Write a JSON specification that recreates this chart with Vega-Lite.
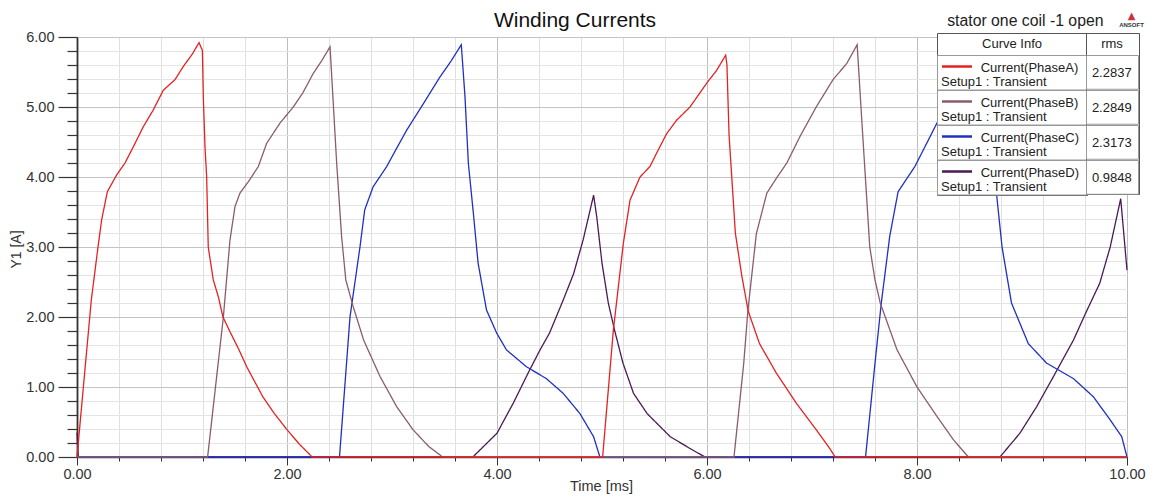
{
  "$schema": "https://vega.github.io/schema/vega-lite/v6.json",
  "width": 1050,
  "height": 420,
  "autosize": {"type": "none"},
  "padding": {"left": 77, "top": 37, "right": 26, "bottom": 39},
  "background": "white",
  "title": {"text": "Winding Currents", "font": "Liberation Sans", "fontSize": 21, "fontWeight": "normal", "color": "#111", "anchor": "middle", "frame": "group", "dx": -27, "dy": 27, "offset": 6},
  "config": {"font": "Liberation Sans", "view": {"stroke": "#444", "strokeWidth": 1}},
  "datasets": {
    "info": [
      {"series": "Current(PhaseA)", "rms": "2.2837"},
      {"series": "Current(PhaseB)", "rms": "2.2849"},
      {"series": "Current(PhaseC)", "rms": "2.3173"},
      {"series": "Current(PhaseD)", "rms": "0.9848"}
    ],
    "currents": [
      {"series": "Current(PhaseD)", "t": 0, "i": 0.35},
      {"series": "Current(PhaseD)", "t": 0.012, "i": 0},
      {"series": "Current(PhaseD)", "t": 3.77, "i": 0},
      {"series": "Current(PhaseD)", "t": 4.0, "i": 0.34},
      {"series": "Current(PhaseD)", "t": 4.155, "i": 0.77},
      {"series": "Current(PhaseD)", "t": 4.31, "i": 1.24},
      {"series": "Current(PhaseD)", "t": 4.41, "i": 1.53},
      {"series": "Current(PhaseD)", "t": 4.5, "i": 1.77},
      {"series": "Current(PhaseD)", "t": 4.63, "i": 2.24},
      {"series": "Current(PhaseD)", "t": 4.73, "i": 2.62},
      {"series": "Current(PhaseD)", "t": 4.82, "i": 3.1},
      {"series": "Current(PhaseD)", "t": 4.92, "i": 3.74},
      {"series": "Current(PhaseD)", "t": 4.95, "i": 3.43},
      {"series": "Current(PhaseD)", "t": 5.0, "i": 2.77},
      {"series": "Current(PhaseD)", "t": 5.06, "i": 2.2},
      {"series": "Current(PhaseD)", "t": 5.12, "i": 1.81},
      {"series": "Current(PhaseD)", "t": 5.2, "i": 1.34},
      {"series": "Current(PhaseD)", "t": 5.3, "i": 0.91},
      {"series": "Current(PhaseD)", "t": 5.43, "i": 0.62},
      {"series": "Current(PhaseD)", "t": 5.65, "i": 0.29},
      {"series": "Current(PhaseD)", "t": 5.84, "i": 0.12},
      {"series": "Current(PhaseD)", "t": 5.98, "i": 0},
      {"series": "Current(PhaseD)", "t": 8.79, "i": 0},
      {"series": "Current(PhaseD)", "t": 8.98, "i": 0.34},
      {"series": "Current(PhaseD)", "t": 9.14, "i": 0.72},
      {"series": "Current(PhaseD)", "t": 9.3, "i": 1.15},
      {"series": "Current(PhaseD)", "t": 9.49, "i": 1.67},
      {"series": "Current(PhaseD)", "t": 9.62, "i": 2.1},
      {"series": "Current(PhaseD)", "t": 9.74, "i": 2.48},
      {"series": "Current(PhaseD)", "t": 9.84, "i": 3.0},
      {"series": "Current(PhaseD)", "t": 9.94, "i": 3.69},
      {"series": "Current(PhaseD)", "t": 10, "i": 2.67},

      {"series": "Current(PhaseC)", "t": 0, "i": 0},
      {"series": "Current(PhaseC)", "t": 2.5, "i": 0},
      {"series": "Current(PhaseC)", "t": 2.6, "i": 2.0},
      {"series": "Current(PhaseC)", "t": 2.695, "i": 3.0},
      {"series": "Current(PhaseC)", "t": 2.74, "i": 3.53},
      {"series": "Current(PhaseC)", "t": 2.82, "i": 3.86},
      {"series": "Current(PhaseC)", "t": 2.95, "i": 4.15},
      {"series": "Current(PhaseC)", "t": 3.04, "i": 4.4},
      {"series": "Current(PhaseC)", "t": 3.14, "i": 4.67},
      {"series": "Current(PhaseC)", "t": 3.3, "i": 5.05},
      {"series": "Current(PhaseC)", "t": 3.457, "i": 5.43},
      {"series": "Current(PhaseC)", "t": 3.56, "i": 5.65},
      {"series": "Current(PhaseC)", "t": 3.66, "i": 5.89},
      {"series": "Current(PhaseC)", "t": 3.695, "i": 5.15},
      {"series": "Current(PhaseC)", "t": 3.727, "i": 4.2},
      {"series": "Current(PhaseC)", "t": 3.775, "i": 3.48},
      {"series": "Current(PhaseC)", "t": 3.82, "i": 2.77},
      {"series": "Current(PhaseC)", "t": 3.9, "i": 2.1},
      {"series": "Current(PhaseC)", "t": 3.997, "i": 1.77},
      {"series": "Current(PhaseC)", "t": 4.09, "i": 1.53},
      {"series": "Current(PhaseC)", "t": 4.28, "i": 1.29},
      {"series": "Current(PhaseC)", "t": 4.47, "i": 1.12},
      {"series": "Current(PhaseC)", "t": 4.63, "i": 0.91},
      {"series": "Current(PhaseC)", "t": 4.79, "i": 0.62},
      {"series": "Current(PhaseC)", "t": 4.92, "i": 0.29},
      {"series": "Current(PhaseC)", "t": 4.98, "i": 0},
      {"series": "Current(PhaseC)", "t": 7.51, "i": 0},
      {"series": "Current(PhaseC)", "t": 7.6, "i": 1.34},
      {"series": "Current(PhaseC)", "t": 7.66, "i": 2.2},
      {"series": "Current(PhaseC)", "t": 7.74, "i": 3.15},
      {"series": "Current(PhaseC)", "t": 7.82, "i": 3.79},
      {"series": "Current(PhaseC)", "t": 7.98, "i": 4.15},
      {"series": "Current(PhaseC)", "t": 8.19, "i": 4.77},
      {"series": "Current(PhaseC)", "t": 8.35, "i": 5.15},
      {"series": "Current(PhaseC)", "t": 8.5, "i": 5.5},
      {"series": "Current(PhaseC)", "t": 8.66, "i": 5.88},
      {"series": "Current(PhaseC)", "t": 8.69, "i": 5.15},
      {"series": "Current(PhaseC)", "t": 8.76, "i": 3.72},
      {"series": "Current(PhaseC)", "t": 8.81, "i": 3.0},
      {"series": "Current(PhaseC)", "t": 8.9, "i": 2.2},
      {"series": "Current(PhaseC)", "t": 9.06, "i": 1.62},
      {"series": "Current(PhaseC)", "t": 9.235, "i": 1.34},
      {"series": "Current(PhaseC)", "t": 9.49, "i": 1.12},
      {"series": "Current(PhaseC)", "t": 9.68, "i": 0.86},
      {"series": "Current(PhaseC)", "t": 9.84, "i": 0.53},
      {"series": "Current(PhaseC)", "t": 9.95, "i": 0.29},
      {"series": "Current(PhaseC)", "t": 10, "i": 0},

      {"series": "Current(PhaseB)", "t": 0, "i": 0},
      {"series": "Current(PhaseB)", "t": 1.244, "i": 0},
      {"series": "Current(PhaseB)", "t": 1.394, "i": 2.0},
      {"series": "Current(PhaseB)", "t": 1.457, "i": 3.1},
      {"series": "Current(PhaseB)", "t": 1.505, "i": 3.58},
      {"series": "Current(PhaseB)", "t": 1.552, "i": 3.77},
      {"series": "Current(PhaseB)", "t": 1.64, "i": 3.95},
      {"series": "Current(PhaseB)", "t": 1.727, "i": 4.15},
      {"series": "Current(PhaseB)", "t": 1.806, "i": 4.48},
      {"series": "Current(PhaseB)", "t": 1.933, "i": 4.77},
      {"series": "Current(PhaseB)", "t": 2.06, "i": 5.0},
      {"series": "Current(PhaseB)", "t": 2.15, "i": 5.2},
      {"series": "Current(PhaseB)", "t": 2.25, "i": 5.48},
      {"series": "Current(PhaseB)", "t": 2.33, "i": 5.66},
      {"series": "Current(PhaseB)", "t": 2.41, "i": 5.86},
      {"series": "Current(PhaseB)", "t": 2.473, "i": 4.2},
      {"series": "Current(PhaseB)", "t": 2.52, "i": 3.15},
      {"series": "Current(PhaseB)", "t": 2.56, "i": 2.53},
      {"series": "Current(PhaseB)", "t": 2.63, "i": 2.15},
      {"series": "Current(PhaseB)", "t": 2.73, "i": 1.67},
      {"series": "Current(PhaseB)", "t": 2.886, "i": 1.15},
      {"series": "Current(PhaseB)", "t": 3.044, "i": 0.72},
      {"series": "Current(PhaseB)", "t": 3.2, "i": 0.39},
      {"series": "Current(PhaseB)", "t": 3.35, "i": 0.15},
      {"series": "Current(PhaseB)", "t": 3.457, "i": 0.03},
      {"series": "Current(PhaseB)", "t": 3.48, "i": 0},
      {"series": "Current(PhaseB)", "t": 6.257, "i": 0},
      {"series": "Current(PhaseB)", "t": 6.35, "i": 1.34},
      {"series": "Current(PhaseB)", "t": 6.39, "i": 2.1},
      {"series": "Current(PhaseB)", "t": 6.47, "i": 3.19},
      {"series": "Current(PhaseB)", "t": 6.57, "i": 3.77},
      {"series": "Current(PhaseB)", "t": 6.66, "i": 3.98},
      {"series": "Current(PhaseB)", "t": 6.76, "i": 4.2},
      {"series": "Current(PhaseB)", "t": 6.886, "i": 4.58},
      {"series": "Current(PhaseB)", "t": 7.04, "i": 5.0},
      {"series": "Current(PhaseB)", "t": 7.2, "i": 5.39},
      {"series": "Current(PhaseB)", "t": 7.33, "i": 5.62},
      {"series": "Current(PhaseB)", "t": 7.43, "i": 5.89},
      {"series": "Current(PhaseB)", "t": 7.47, "i": 4.91},
      {"series": "Current(PhaseB)", "t": 7.52, "i": 3.72},
      {"series": "Current(PhaseB)", "t": 7.55, "i": 3.0},
      {"series": "Current(PhaseB)", "t": 7.6, "i": 2.53},
      {"series": "Current(PhaseB)", "t": 7.65, "i": 2.2},
      {"series": "Current(PhaseB)", "t": 7.81, "i": 1.53},
      {"series": "Current(PhaseB)", "t": 8.0, "i": 1.0},
      {"series": "Current(PhaseB)", "t": 8.19, "i": 0.58},
      {"series": "Current(PhaseB)", "t": 8.35, "i": 0.24},
      {"series": "Current(PhaseB)", "t": 8.49, "i": 0},
      {"series": "Current(PhaseB)", "t": 10, "i": 0},

      {"series": "Current(PhaseA)", "t": 0, "i": 0},
      {"series": "Current(PhaseA)", "t": 0.136, "i": 2.24},
      {"series": "Current(PhaseA)", "t": 0.2, "i": 3.0},
      {"series": "Current(PhaseA)", "t": 0.235, "i": 3.39},
      {"series": "Current(PhaseA)", "t": 0.289, "i": 3.79},
      {"series": "Current(PhaseA)", "t": 0.378, "i": 4.03},
      {"series": "Current(PhaseA)", "t": 0.457, "i": 4.2},
      {"series": "Current(PhaseA)", "t": 0.536, "i": 4.43},
      {"series": "Current(PhaseA)", "t": 0.632, "i": 4.72},
      {"series": "Current(PhaseA)", "t": 0.727, "i": 4.96},
      {"series": "Current(PhaseA)", "t": 0.822, "i": 5.24},
      {"series": "Current(PhaseA)", "t": 0.933, "i": 5.39},
      {"series": "Current(PhaseA)", "t": 1.013, "i": 5.58},
      {"series": "Current(PhaseA)", "t": 1.1, "i": 5.76},
      {"series": "Current(PhaseA)", "t": 1.162, "i": 5.92},
      {"series": "Current(PhaseA)", "t": 1.194, "i": 5.81},
      {"series": "Current(PhaseA)", "t": 1.203, "i": 5.15},
      {"series": "Current(PhaseA)", "t": 1.219, "i": 4.43},
      {"series": "Current(PhaseA)", "t": 1.235, "i": 4.0},
      {"series": "Current(PhaseA)", "t": 1.25, "i": 3.0},
      {"series": "Current(PhaseA)", "t": 1.298, "i": 2.53},
      {"series": "Current(PhaseA)", "t": 1.346, "i": 2.29},
      {"series": "Current(PhaseA)", "t": 1.39, "i": 2.0},
      {"series": "Current(PhaseA)", "t": 1.457, "i": 1.79},
      {"series": "Current(PhaseA)", "t": 1.54, "i": 1.54},
      {"series": "Current(PhaseA)", "t": 1.616, "i": 1.29},
      {"series": "Current(PhaseA)", "t": 1.77, "i": 0.86},
      {"series": "Current(PhaseA)", "t": 1.88, "i": 0.62},
      {"series": "Current(PhaseA)", "t": 2.0, "i": 0.39},
      {"series": "Current(PhaseA)", "t": 2.12, "i": 0.18},
      {"series": "Current(PhaseA)", "t": 2.22, "i": 0.03},
      {"series": "Current(PhaseA)", "t": 2.24, "i": 0},
      {"series": "Current(PhaseA)", "t": 5.006, "i": 0},
      {"series": "Current(PhaseA)", "t": 5.108, "i": 1.81},
      {"series": "Current(PhaseA)", "t": 5.203, "i": 3.05},
      {"series": "Current(PhaseA)", "t": 5.267, "i": 3.67},
      {"series": "Current(PhaseA)", "t": 5.362, "i": 4.0},
      {"series": "Current(PhaseA)", "t": 5.457, "i": 4.15},
      {"series": "Current(PhaseA)", "t": 5.52, "i": 4.34},
      {"series": "Current(PhaseA)", "t": 5.616, "i": 4.62},
      {"series": "Current(PhaseA)", "t": 5.71, "i": 4.81},
      {"series": "Current(PhaseA)", "t": 5.838, "i": 5.0},
      {"series": "Current(PhaseA)", "t": 5.997, "i": 5.34},
      {"series": "Current(PhaseA)", "t": 6.09, "i": 5.52},
      {"series": "Current(PhaseA)", "t": 6.178, "i": 5.74},
      {"series": "Current(PhaseA)", "t": 6.19, "i": 5.6},
      {"series": "Current(PhaseA)", "t": 6.21, "i": 4.6},
      {"series": "Current(PhaseA)", "t": 6.24, "i": 3.9},
      {"series": "Current(PhaseA)", "t": 6.27, "i": 3.2},
      {"series": "Current(PhaseA)", "t": 6.33, "i": 2.6},
      {"series": "Current(PhaseA)", "t": 6.393, "i": 2.08},
      {"series": "Current(PhaseA)", "t": 6.5, "i": 1.62},
      {"series": "Current(PhaseA)", "t": 6.66, "i": 1.2},
      {"series": "Current(PhaseA)", "t": 6.85, "i": 0.77},
      {"series": "Current(PhaseA)", "t": 7.04, "i": 0.39},
      {"series": "Current(PhaseA)", "t": 7.17, "i": 0.12},
      {"series": "Current(PhaseA)", "t": 7.22, "i": 0},
      {"series": "Current(PhaseA)", "t": 10, "i": 0}
    ]
  },
  "data": {"name": "currents"},
  "transform": [
    {"lookup": "series", "from": {"data": {"name": "info"}, "key": "series", "fields": ["rms"]}}
  ],
  "resolve": {"axis": {"x": "independent", "y": "independent"}},
  "layer": [
    {
      "mark": {"type": "line", "strokeWidth": 1.3, "interpolate": "linear"},
      "encoding": {
        "x": {
          "field": "t", "type": "quantitative",
          "scale": {"domain": [0, 10], "nice": false, "zero": false},
          "axis": {
            "orient": "bottom",
            "values": [0, 0.4, 0.8, 1.2, 1.6, 2, 2.4, 2.8, 3.2, 3.6, 4, 4.4, 4.8, 5.2, 5.6, 6, 6.4, 6.8, 7.2, 7.6, 8, 8.4, 8.8, 9.2, 9.6, 10],
            "format": ".2f",
            "labelExpr": "datum.value % 2 === 0 ? datum.label : ''",
            "labelFont": "Liberation Sans", "labelFontSize": 14.5, "labelColor": "#333",
            "labelPadding": 2, "labelFlush": false, "labelOverlap": false,
            "tickSize": {"condition": {"test": "datum.value % 2 === 0", "value": 8}, "value": 4},
            "tickColor": "#333", "tickWidth": 1,
            "domainColor": "#333", "domainWidth": 1.5,
            "grid": true,
            "gridColor": {"condition": {"test": "datum.value % 2 === 0", "value": "#bdbdbd"}, "value": "#e0e0e0"},
            "gridWidth": 1,
            "title": "Time [ms]", "titleFont": "Liberation Sans", "titleFontSize": 14.5, "titleFontWeight": "normal", "titleColor": "#333",
            "titleX": 524, "titleY": 33, "titleAlign": "center", "titleBaseline": "alphabetic"
          }
        },
        "y": {
          "field": "i", "type": "quantitative",
          "scale": {"domain": [0, 6], "nice": false, "zero": false},
          "axis": {
            "orient": "left",
            "values": [0, 0.2, 0.4, 0.6, 0.8, 1, 1.2, 1.4, 1.6, 1.8, 2, 2.2, 2.4, 2.6, 2.8, 3, 3.2, 3.4, 3.6, 3.8, 4, 4.2, 4.4, 4.6, 4.8, 5, 5.2, 5.4, 5.6, 5.8, 6],
            "format": ".2f",
            "labelExpr": "datum.value % 1 === 0 ? datum.label : ''",
            "labelFont": "Liberation Sans", "labelFontSize": 14.5, "labelColor": "#333",
            "labelPadding": 4, "labelOverlap": false, "labelFlush": false, "labelBaseline": "middle",
            "tickSize": {"condition": {"test": "datum.value % 1 === 0", "value": 19}, "value": 10},
            "tickColor": "#333", "tickWidth": 1.2,
            "domainColor": "#333", "domainWidth": 1.8,
            "grid": true,
            "gridColor": {"condition": {"test": "datum.value % 1 === 0", "value": "#c4c4c4"}, "value": "#e4e4e4"},
            "gridWidth": 1,
            "title": "Y1 [A]", "titleFont": "Liberation Sans", "titleFontSize": 14, "titleFontWeight": "normal", "titleColor": "#333",
            "titleX": -61, "titleY": 212, "titleAngle": -90, "titleAlign": "center", "titleBaseline": "middle"
          }
        },
        "color": {
          "field": "series", "type": "nominal",
          "scale": {"domain": ["Current(PhaseA)", "Current(PhaseB)", "Current(PhaseC)", "Current(PhaseD)"], "range": ["#e52222", "#8a5c70", "#2030c0", "#4a1a55"]},
          "legend": {
            "orient": "none", "legendX": 860, "legendY": -4,
            "title": "Curve Info", "titleFont": "Liberation Sans", "titleFontSize": 13, "titleFontWeight": "normal", "titleColor": "#222",
            "titleAnchor": "middle", "titlePadding": 9, "titleOrient": "top",
            "padding": 0, "rowPadding": 0, "strokeColor": "#555", "fillColor": "white",
            "symbolType": "stroke", "symbolSize": 900, "symbolStrokeWidth": 2.5,
            "labelFont": "Liberation Sans", "labelFontSize": 13, "labelColor": "#222", "labelLimit": 0,
            "labelExpr": "['\u200b\u00a0\u00a0\u00a0\u00a0\u00a0\u00a0\u00a0\u00a0\u00a0\u00a0\u00a0' + datum.label + '\u00a0\u00a0\u200b', 'Setup1 : Transient']",
            "encode": {
              "title": {"update": {"dy": {"value": 5}}},
              "entries": {"update": {"stroke": {"value": "#999"}, "strokeWidth": {"value": 1}}},
              "symbols": {"update": {"x": {"value": 20}, "y": {"value": 11.5}}},
              "labels": {"update": {"x": {"value": 4}, "y": {"value": 16.5}, "baseline": {"value": "alphabetic"}, "align": {"value": "left"}, "lineHeight": {"value": 14.5}}}
            }
          }
        },
        "strokeDash": {
          "field": "rms", "type": "nominal",
          "scale": {"domain": ["2.2837", "2.2849", "2.3173", "0.9848"], "range": [[1, 0], [1, 0], [1, 0], [1, 0]]},
          "legend": {
            "orient": "none", "legendX": 1009, "legendY": -4,
            "title": "rms", "titleFont": "Liberation Sans", "titleFontSize": 13, "titleFontWeight": "normal", "titleColor": "#222",
            "titleAnchor": "middle", "titlePadding": 9, "titleOrient": "top",
            "padding": 0, "rowPadding": 0, "strokeColor": "#555", "fillColor": "white",
            "symbolType": "M-1.5489,-1H1.5489V1H-1.5489Z", "symbolSize": 1105.6,
            "symbolOpacity": 0, "symbolStrokeWidth": 0,
            "labelFont": "Liberation Sans", "labelFontSize": 13, "labelColor": "#222", "labelLimit": 0,
            "encode": {
              "title": {"update": {"dy": {"value": 5}}},
              "entries": {"update": {"stroke": {"value": "#999"}, "strokeWidth": {"value": 1}}},
              "symbols": {"update": {"x": {"value": 25.75}, "y": {"value": 16.625}}},
              "labels": {"update": {"x": {"value": 25.75}, "y": {"value": 17.5}, "baseline": {"value": "middle"}, "align": {"value": "center"}}}
            }
          }
        }
      }
    },
    {
      "mark": {"type": "point", "opacity": 0},
      "encoding": {
        "x": {
          "field": "t", "type": "quantitative",
          "scale": {"domain": [0, 10], "nice": false, "zero": false},
          "axis": {"orient": "top", "labels": false, "ticks": false, "domain": false, "grid": false,
            "title": "stator one coil -1 open", "titleFont": "Liberation Sans", "titleFontSize": 15.8, "titleFontWeight": "normal", "titleColor": "#222",
            "titleX": 1026, "titleY": -12, "titleAlign": "right", "titleBaseline": "alphabetic"}
        },
        "y": {
          "field": "i", "type": "quantitative",
          "scale": {"domain": [0, 6], "nice": false, "zero": false},
          "axis": {"orient": "right", "labels": false, "ticks": false, "domain": false, "grid": false,
            "title": "▲", "titleFont": "DejaVu Sans", "titleFontSize": 10, "titleFontWeight": "normal", "titleColor": "#c8343a",
            "titleAngle": 0, "titleX": 4, "titleY": -19, "titleAlign": "center", "titleBaseline": "alphabetic"}
        }
      }
    },
    {
      "mark": {"type": "point", "opacity": 0},
      "encoding": {
        "x": {"field": "t", "type": "quantitative", "scale": {"domain": [0, 10], "nice": false, "zero": false}, "axis": null},
        "y": {
          "field": "i", "type": "quantitative",
          "scale": {"domain": [0, 6], "nice": false, "zero": false},
          "axis": {"orient": "right", "labels": false, "ticks": false, "domain": false, "grid": false,
            "title": "ANSOFT", "titleFont": "Liberation Sans", "titleFontSize": 6, "titleFontWeight": "bold", "titleColor": "#333",
            "titleAngle": 0, "titleX": 4, "titleY": -10.5, "titleAlign": "center", "titleBaseline": "alphabetic"}
        }
      }
    }
  ]
}
